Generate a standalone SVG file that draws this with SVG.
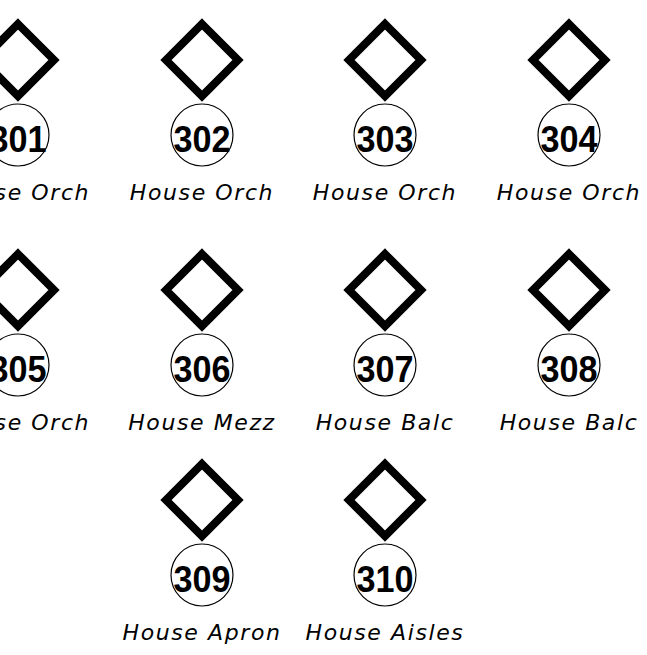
<svg xmlns="http://www.w3.org/2000/svg" width="647" height="655" viewBox="0 0 647 655">
<style>
.dia{fill:none;stroke:#000;stroke-width:8;stroke-linejoin:miter;stroke-miterlimit:10}
.tag{fill:#fff;stroke:#000;stroke-width:1.2}
.num{font-family:"Liberation Sans",Arial,sans-serif;font-weight:bold;font-size:36px;text-anchor:middle;fill:#000}
.lbl{font-family:"DejaVu Sans",sans-serif;font-style:italic;font-size:22px;letter-spacing:1.6px;text-anchor:middle;fill:#000}
</style>
<defs>
<path id="d" class="dia" d="M0,-36 L36,0 L0,36 L-36,0 Z"/>
</defs>
<rect width="647" height="655" fill="#fff"/>
<g id="connectors"></g>
<g id="n301" transform="translate(18,60)"><use href="#d"/><circle class="tag" cx="0" cy="75" r="31"/><text class="num" x="0" y="91.5" textLength="57" lengthAdjust="spacingAndGlyphs">301</text><text class="lbl" x="0" y="140">House Orch</text></g>
<g id="n302" transform="translate(202,60)"><use href="#d"/><circle class="tag" cx="0" cy="75" r="31"/><text class="num" x="0" y="91.5" textLength="57" lengthAdjust="spacingAndGlyphs">302</text><text class="lbl" x="0" y="140">House Orch</text></g>
<g id="n303" transform="translate(385,60)"><use href="#d"/><circle class="tag" cx="0" cy="75" r="31"/><text class="num" x="0" y="91.5" textLength="57" lengthAdjust="spacingAndGlyphs">303</text><text class="lbl" x="0" y="140">House Orch</text></g>
<g id="n304" transform="translate(569,60)"><use href="#d"/><circle class="tag" cx="0" cy="75" r="31"/><text class="num" x="0" y="91.5" textLength="57" lengthAdjust="spacingAndGlyphs">304</text><text class="lbl" x="0" y="140">House Orch</text></g>
<g id="n305" transform="translate(18,290)"><use href="#d"/><circle class="tag" cx="0" cy="75" r="31"/><text class="num" x="0" y="91.5" textLength="57" lengthAdjust="spacingAndGlyphs">305</text><text class="lbl" x="0" y="140">House Orch</text></g>
<g id="n306" transform="translate(202,290)"><use href="#d"/><circle class="tag" cx="0" cy="75" r="31"/><text class="num" x="0" y="91.5" textLength="57" lengthAdjust="spacingAndGlyphs">306</text><text class="lbl" x="0" y="140">House Mezz</text></g>
<g id="n307" transform="translate(385,290)"><use href="#d"/><circle class="tag" cx="0" cy="75" r="31"/><text class="num" x="0" y="91.5" textLength="57" lengthAdjust="spacingAndGlyphs">307</text><text class="lbl" x="0" y="140">House Balc</text></g>
<g id="n308" transform="translate(569,290)"><use href="#d"/><circle class="tag" cx="0" cy="75" r="31"/><text class="num" x="0" y="91.5" textLength="57" lengthAdjust="spacingAndGlyphs">308</text><text class="lbl" x="0" y="140">House Balc</text></g>
<g id="n309" transform="translate(202,500)"><use href="#d"/><circle class="tag" cx="0" cy="75" r="31"/><text class="num" x="0" y="91.5" textLength="57" lengthAdjust="spacingAndGlyphs">309</text><text class="lbl" x="0" y="140">House Apron</text></g>
<g id="n310" transform="translate(385,500)"><use href="#d"/><circle class="tag" cx="0" cy="75" r="31"/><text class="num" x="0" y="91.5" textLength="57" lengthAdjust="spacingAndGlyphs">310</text><text class="lbl" x="0" y="140">House Aisles</text></g>
</svg>
